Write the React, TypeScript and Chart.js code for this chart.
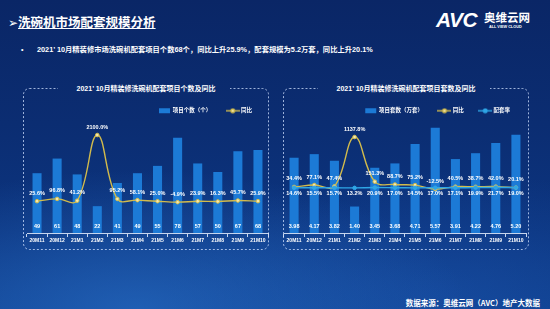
import React, { useEffect, useRef } from "react";
import { Chart, registerables } from "chart.js";
Chart.register(...registerables);

const months = ["20M11", "20M12", "21M1", "21M2", "21M3", "21M4", "21M5", "21M6", "21M7", "21M8", "21M9", "21M10"];
const projectCounts = [49, 61, 48, 22, 41, 49, 55, 78, 57, 50, 67, 68];
const projectCountYoY = [25.6, 96.8, 41.2, 2100.0, 95.2, 58.1, 25.0, -4.9, 23.9, 16.3, 45.7, 25.9];
const setsScale = [3.98, 4.17, 3.82, 1.40, 3.45, 3.68, 4.71, 5.57, 3.91, 4.22, 4.76, 5.20];
const setsYoY = [34.4, 77.1, 47.4, 1137.8, 151.3, 88.7, 75.2, -12.5, 40.5, 38.7, 42.0, 20.1];
const matchRate = [14.6, 15.5, 15.7, 13.2, 20.9, 17.0, 14.5, 17.0, 17.1, 19.9, 21.7, 19.0];

const FONT = "'Liberation Sans', 'Noto Sans CJK SC', sans-serif";
const BAR_COLOR = "#1c7ad6";
const YELLOW = "#d2bb4c";
const CYAN = "#2fa6e6";

const valueLabels = {
  id: "valueLabels",
  afterDatasetsDraw(chart: any) {
    const ctx = chart.ctx;
    ctx.save();
    ctx.fillStyle = "#ffffff";
    ctx.font = `bold 5.5px ${FONT}`;
    ctx.textAlign = "center";
    ctx.textBaseline = "middle";
    chart.data.datasets.forEach((ds: any, i: number) => {
      const meta = chart.getDatasetMeta(i);
      meta.data.forEach((el: any, j: number) => {
        const v = ds.data[j];
        const txt = ds.labelSuffix === "%" ? v.toFixed(1) + "%" : ds.labelDigits ? v.toFixed(ds.labelDigits) : String(v);
        let y = el.y;
        if (ds.labelPos === "base") y = el.base - 7;
        else if (ds.labelPos === "above") y = el.y - 8;
        else if (ds.labelPos === "below") y = el.y + 6;
        ctx.fillText(txt, el.x, y);
      });
    });
    ctx.restore();
  },
};

function lineIcon(color: string, fill: string) {
  const c = document.createElement("canvas");
  c.width = 14;
  c.height = 6;
  const g = c.getContext("2d")!;
  g.strokeStyle = color;
  g.lineWidth = 1.4;
  g.beginPath();
  g.moveTo(0, 3);
  g.lineTo(14, 3);
  g.stroke();
  g.beginPath();
  g.arc(7, 3, 1.8, 0, Math.PI * 2);
  g.fillStyle = fill;
  g.fill();
  g.stroke();
  return c;
}

function makeOptions(barMax: number, lineMin: number, lineMax: number, padL: number, padR: number): any {
  return {
    responsive: false,
    animation: false,
    layout: { padding: { left: padL, right: padR, top: 4, bottom: 5 } },
    plugins: {
      title: { display: false },
      tooltip: { enabled: false },
      legend: {
        display: true,
        position: "top",
        align: "end",
        maxHeight: 23,
        labels: {
          color: "#ffffff",
          font: { size: 5.5, weight: "bold", family: FONT },
          boxHeight: 5,
          boxWidth: 10,
          usePointStyle: true,
          pointStyleWidth: 11,
          padding: 16,
          sort: (a: any, b: any) => a.datasetIndex - b.datasetIndex,
          generateLabels: (chart: any) => {
            const items = (Chart.defaults.plugins.legend.labels as any).generateLabels(chart);
            return items.map((it: any) => {
              const ds = chart.data.datasets[it.datasetIndex];
              return { ...it, pointStyle: ds.legendIcon || "rect", fontColor: "#ffffff", lineWidth: 0 };
            });
          },
        },
      },
    },
    scales: {
      x: {
        offset: true,
        grid: { display: true, drawOnChartArea: false, drawTicks: true, tickLength: 4, color: "rgba(230,240,255,0.85)", offset: true },
        border: { display: true, color: "rgba(230,240,255,0.85)", width: 1 },
        ticks: { color: "#ffffff", font: { size: 5, weight: "bold", family: FONT }, padding: 1, maxRotation: 0, autoSkip: false },
        afterFit: (scale: any) => {
          scale.height = 12;
        },
      },
      y: { display: false, min: 0, max: barMax },
      y1: { display: false, min: lineMin, max: lineMax },
    },
  };
}

export default function App() {
  const leftRef = useRef<HTMLCanvasElement>(null);
  const rightRef = useRef<HTMLCanvasElement>(null);

  useEffect(() => {
    const yIcon = lineIcon(YELLOW, "#f3e8b0");
    const cIcon = lineIcon(CYAN, CYAN);
    const left = new Chart(leftRef.current!, {
      type: "bar",
      data: {
        labels: months,
        datasets: [
          {
            type: "bar",
            label: "项目个数（个）",
            data: projectCounts,
            backgroundColor: BAR_COLOR,
            yAxisID: "y",
            barPercentage: 0.9,
            categoryPercentage: 0.5,
            order: 3,
            labelPos: "base",
          } as any,
          {
            type: "line",
            label: "同比",
            data: projectCountYoY,
            borderColor: YELLOW,
            backgroundColor: "#f3e8b0",
            borderWidth: 1.4,
            pointRadius: 1.8,
            pointBorderWidth: 1,
            pointBorderColor: YELLOW,
            tension: 0.4,
            yAxisID: "y1",
            order: 1,
            labelPos: "above",
            labelSuffix: "%",
            legendIcon: yIcon,
          } as any,
        ],
      },
      options: makeOptions(96.7, -972, 2727, 7, 7),
      plugins: [valueLabels],
    });

    const right = new Chart(rightRef.current!, {
      type: "bar",
      data: {
        labels: months,
        datasets: [
          {
            type: "bar",
            label: "项目套数（万套）",
            data: setsScale,
            backgroundColor: BAR_COLOR,
            yAxisID: "y",
            barPercentage: 0.9,
            categoryPercentage: 0.5,
            order: 3,
            labelPos: "base",
            labelDigits: 2,
          } as any,
          {
            type: "line",
            label: "同比",
            data: setsYoY,
            borderColor: YELLOW,
            backgroundColor: "#f3e8b0",
            borderWidth: 1.4,
            pointRadius: 1.8,
            pointBorderWidth: 1,
            pointBorderColor: YELLOW,
            tension: 0.4,
            yAxisID: "y1",
            order: 2,
            labelPos: "above",
            labelSuffix: "%",
            legendIcon: yIcon,
          } as any,
          {
            type: "line",
            label: "配套率",
            data: matchRate,
            borderColor: CYAN,
            backgroundColor: CYAN,
            borderWidth: 1.4,
            pointRadius: 1.8,
            pointBorderWidth: 1,
            tension: 0.4,
            yAxisID: "y1",
            order: 1,
            labelPos: "below",
            labelSuffix: "%",
            legendIcon: cIcon,
          } as any,
        ],
      },
      options: makeOptions(6.24, -983, 1624, 6, 7),
      plugins: [valueLabels],
    });

    return () => {
      left.destroy();
      right.destroy();
    };
  }, []);

  const boxStroke = "rgba(210,225,255,0.75)";

  return (
    <div
      style={{
        position: "fixed",
        left: 0,
        top: 0,
        width: 550,
        height: 309,
        overflow: "hidden",
        fontFamily: FONT,
        color: "#ffffff",
        background:
          "radial-gradient(ellipse 60% 45% at 25% 100%, rgba(45,120,210,0.55), rgba(45,120,210,0) 100%), radial-gradient(ellipse 50% 40% at 80% 95%, rgba(30,90,180,0.4), rgba(30,90,180,0) 100%), linear-gradient(180deg, #0a2666 0%, #0b2d72 40%, #0c3580 75%, #0f3f8e 100%)",
      }}
    >
      <div style={{ position: "absolute", left: 8, top: 13, fontSize: 12.5, fontWeight: "bold", lineHeight: "18px", whiteSpace: "nowrap", fontFamily: "'DejaVu Sans', 'Noto Sans CJK SC', sans-serif" }}>
        <span style={{ fontSize: 12 }}>➢</span>
        <span style={{ textDecoration: "underline", fontFamily: "'Noto Sans CJK SC', sans-serif" }}>洗碗机市场配套规模分析</span>
      </div>

      <div style={{ position: "absolute", left: 436, top: 8, fontSize: 21, fontWeight: "bold", fontStyle: "italic", letterSpacing: -0.5, lineHeight: "24px", fontFamily: "'Liberation Sans', sans-serif" }}>AVC</div>
      <div style={{ position: "absolute", left: 484, top: 11, fontSize: 11.5, fontWeight: "bold", lineHeight: "13px", fontFamily: "'Noto Sans CJK SC', sans-serif", whiteSpace: "nowrap" }}>奥维云网</div>
      <div style={{ position: "absolute", left: 489, top: 25, fontSize: 3.8, fontWeight: "bold", lineHeight: "5px", whiteSpace: "nowrap" }}>ALL VIEW CLOUD</div>

      <div style={{ position: "absolute", left: 21, top: 45, fontSize: 7, fontWeight: "bold", lineHeight: "10px" }}>•</div>
      <div style={{ position: "absolute", left: 37, top: 45, fontSize: 7.3, fontWeight: "bold", lineHeight: "10px", whiteSpace: "nowrap" }}>
        2021’ 10月精装修市场洗碗机配套项目个数68个，同比上升25.9%，配套规模为5.2万套，同比上升20.1%
      </div>

      <svg width={550} height={309} style={{ position: "absolute", left: 0, top: 0 }}>
        <defs>
          <mask id="mL">
            <rect x={0} y={0} width={550} height={309} fill="white" />
            <rect x={58} y={82} width={172} height={12} fill="black" />
          </mask>
          <mask id="mR">
            <rect x={0} y={0} width={550} height={309} fill="white" />
            <rect x={318} y={82} width={172} height={12} fill="black" />
          </mask>
        </defs>
        <rect x={23.5} y={88.5} width={245} height={161} rx={6} fill="none" stroke={boxStroke} strokeWidth={1} strokeDasharray="2 2" mask="url(#mL)" />
        <rect x={283.5} y={88.5} width={245} height={161} rx={6} fill="none" stroke={boxStroke} strokeWidth={1} strokeDasharray="2 2" mask="url(#mR)" />
      </svg>

      <div style={{ position: "absolute", left: 23, width: 246, top: 84, textAlign: "center", fontSize: 7, fontWeight: "bold", lineHeight: "10px", whiteSpace: "nowrap" }}>
        2021’ 10月精装修洗碗机配套项目个数及同比
      </div>
      <div style={{ position: "absolute", left: 283, width: 246, top: 84, textAlign: "center", fontSize: 7, fontWeight: "bold", lineHeight: "10px", whiteSpace: "nowrap" }}>
        2021’ 10月精装修洗碗机配套项目套数及同比
      </div>

      <canvas ref={leftRef} width={255} height={162} style={{ position: "absolute", left: 20, top: 88, width: 255, height: 162 }} />
      <canvas ref={rightRef} width={255} height={162} style={{ position: "absolute", left: 278, top: 88, width: 255, height: 162 }} />

      <div style={{ position: "absolute", right: 10, top: 298, fontSize: 7.5, fontWeight: "bold", lineHeight: "10px", whiteSpace: "nowrap", fontFamily: "'Noto Sans CJK SC', sans-serif" }}>
        数据来源：奥维云网（AVC）地产大数据
      </div>
    </div>
  );
}
